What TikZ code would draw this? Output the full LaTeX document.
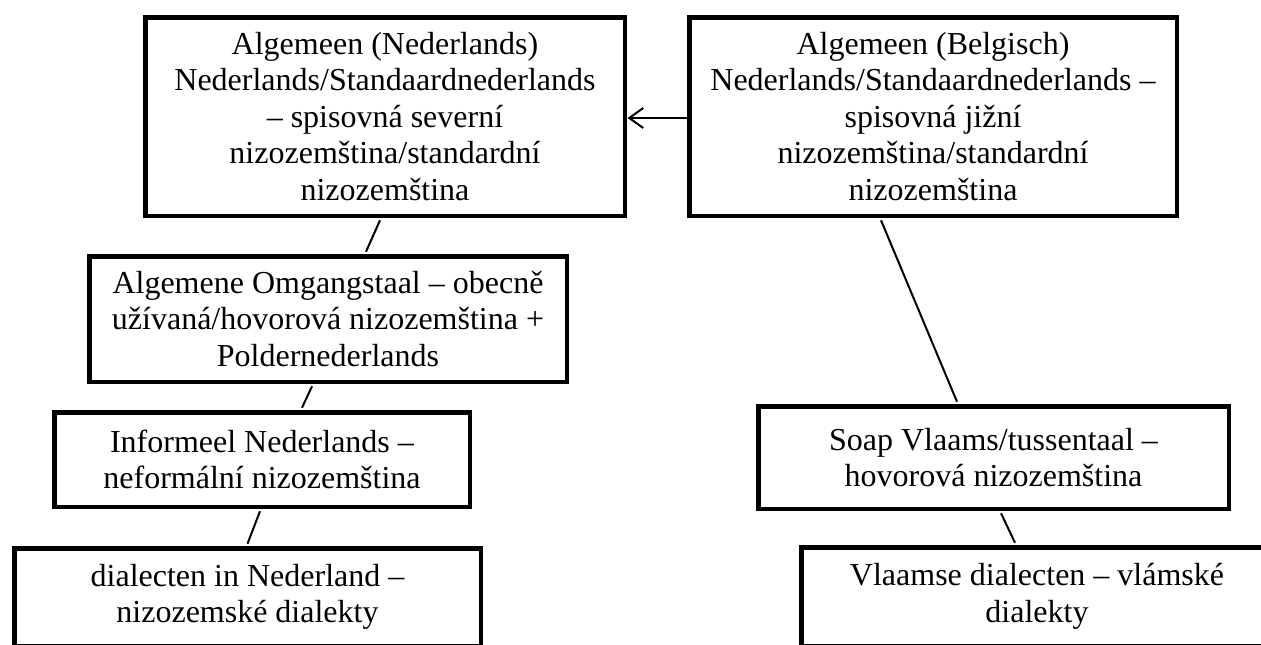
\documentclass[tikz,border=0pt]{standalone}
\usepackage{fontspec}
\setmainfont{Liberation Serif}
\usetikzlibrary{calc,arrows.meta}
\begin{document}
\begin{tikzpicture}[x=1pt,y=-1pt,
  box/.style={draw=black,line width=4.5pt,fill=white,align=center,inner sep=0pt,
    font=\fontsize{32}{36.5}\selectfont},
  conn/.style={line width=2pt},
  arr/.style={line width=2pt,-{Straight Barb[length=14pt,width=20pt]}}]
\clip (0,0) rectangle (1261,645);
\fill[white] (0,0) rectangle (1261,645);
\node[box,minimum width=479.5pt,minimum height=198.5pt] (b1) at (385,116.5)
  {Algemeen (Nederlands)\\Nederlands/Standaardnederlands\\– spisovná severní\\nizozemština/standardní\\nizozemština};
\node[box,minimum width=487.5pt,minimum height=198.5pt] (b2) at (933,116.5)
  {Algemeen (Belgisch)\\Nederlands/Standaardnederlands –\\spisovná jižní\\nizozemština/standardní\\nizozemština};
\node[box,minimum width=477.5pt,minimum height=125.5pt] (b3) at (328,319)
  {Algemene Omgangstaal – obecně\\užívaná/hovorová nizozemština +\\Poldernederlands};
\node[box,minimum width=415.5pt,minimum height=94.5pt] (b4) at (262,459.5)
  {Informeel Nederlands –\\neformální nizozemština};
\node[box,minimum width=466.5pt,minimum height=97.5pt] (b5) at (247.5,597)
  {dialecten in Nederland –\\nizozemské dialekty};
\node[box,minimum width=470.5pt,minimum height=102.5pt] (b6) at (993.5,457.5)
  {Soap Vlaams/tussentaal –\\hovorová nizozemština};
\node[box,minimum width=471.5pt,minimum height=98.5pt] (b7) at (1037,596.5)
  {Vlaamse dialecten – vlámské\\dialekty};
\draw[arr,shorten >=0.5pt] ($(b2.west)+(0,1.5)$) -- ($(b1.east)+(0,1.5)$);
\draw[conn] ($(b1.south)+(-5,2.25)$) -- ($(b3.north)+(38,-2.25)$);
\draw[conn] ($(b3.south)+(-16,2.25)$) -- ($(b4.north)+(40,-2.25)$);
\draw[conn] ($(b4.south)+(-2,2.25)$) -- ($(b5.north)+(0,-2.25)$);
\draw[conn] ($(b2.south)+(-52,2.25)$) -- ($(b6.north)+(-36.5,-2.25)$);
\draw[conn] ($(b6.south)+(7.5,2.25)$) -- ($(b7.north)+(-22,-2.25)$);
\end{tikzpicture}
\end{document}
